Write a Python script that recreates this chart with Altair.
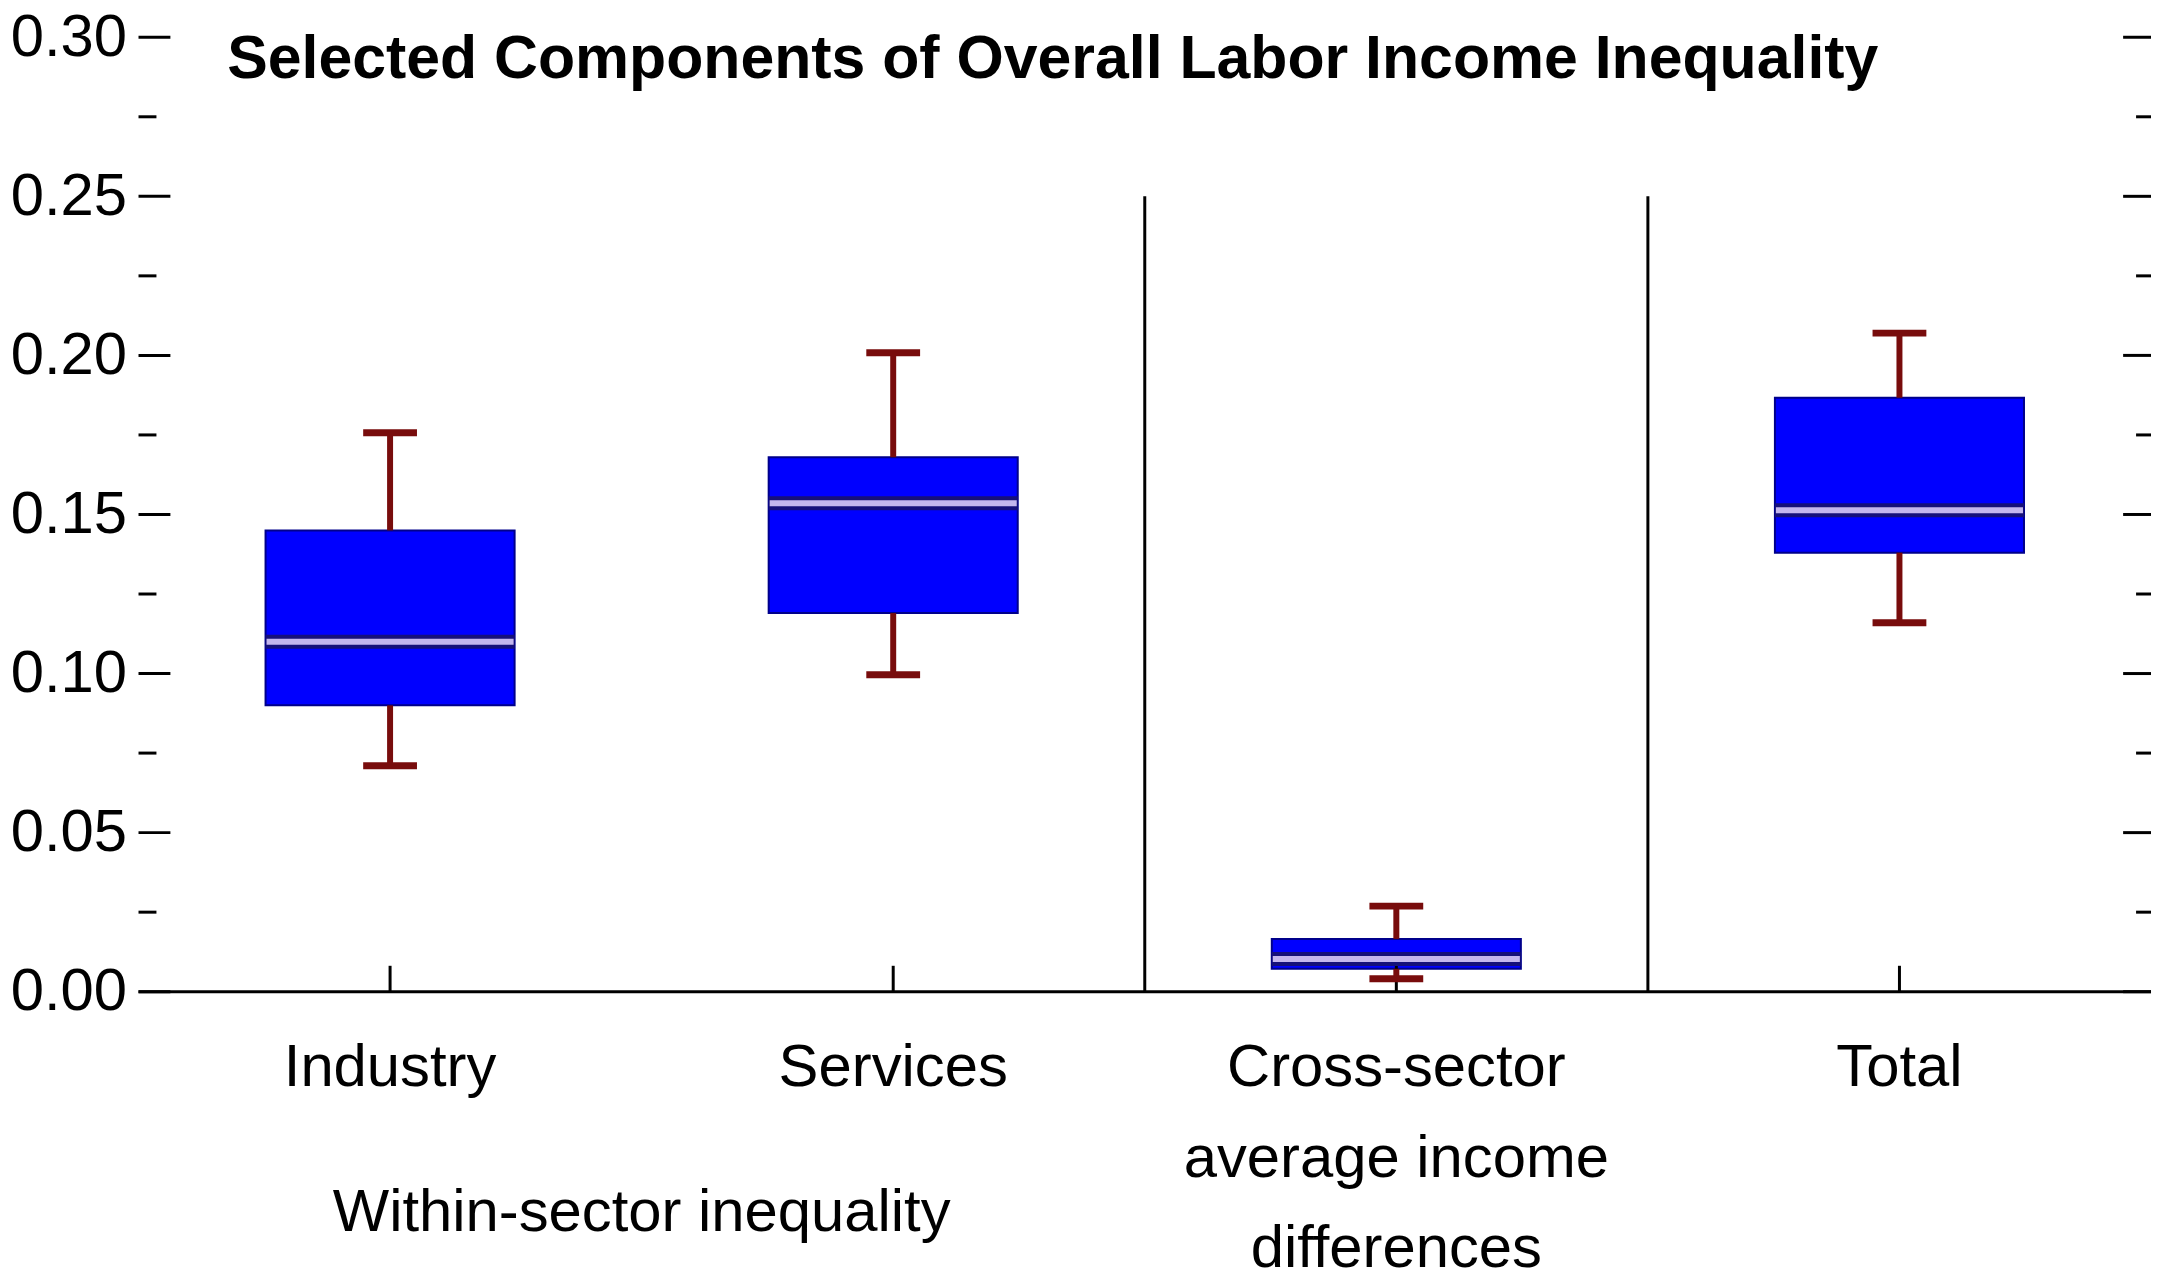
import altair as alt
import pandas as pd

# ---- data ----
categories = ["Industry", "Services", "Cross-sector|average income|differences", "Total"]
whisker_low = [0.071, 0.0996, 0.0041, 0.116]
box_low = [0.090, 0.119, 0.0072, 0.138]
median = [0.110, 0.1535, 0.0103, 0.1513]
box_high = [0.145, 0.168, 0.0166, 0.1867]
whisker_high = [0.1757, 0.2008, 0.0269, 0.207]

y_major = [0.0, 0.05, 0.10, 0.15, 0.20, 0.25, 0.30]
y_minor = [0.025, 0.075, 0.125, 0.175, 0.225, 0.275]
separators = ["Cross-sector|average income|differences", "Total"]
separator_low = 0.0
separator_high = 0.25
group_label = "Within-sector inequality"
group_anchor = "Services"
title_text = "Selected Components of Overall Labor Income Inequality"

# ---- styling ----
W, H = 2020, 958
FONT = "Liberation Sans Narrow, Arial Narrow, Liberation Sans, Arial, sans-serif"
FS = 60
BOX = "#0000ff"
BOX_EDGE = "#00008b"
WHISK = "#780c0c"

df = pd.DataFrame({
    "cat": categories,
    "wl": whisker_low,
    "q1": box_low,
    "med": median,
    "q3": box_high,
    "wh": whisker_high,
})

x_scale = alt.Scale(domain=categories, paddingInner=0, paddingOuter=0)
y_scale = alt.Scale(domain=[0, 0.30], nice=False, zero=True)

x_axis = alt.Axis(title=None, domain=False, ticks=False, tickSize=0, grid=False,
                  labelAngle=0, labelFont=FONT, labelFontSize=FS, labelColor="black",
                  labelPadding=47, labelLineHeight=91, labelLimit=2000,
                  labelBaseline="top", labelExpr="split(datum.label, '|')")
y_axis = alt.Axis(title=None, values=y_major, format=".2f", domain=False, ticks=False,
                  tickSize=0, grid=False, labelFont=FONT, labelFontSize=FS,
                  labelColor="black", labelPadding=12)

X = lambda **kw: alt.X("cat:N", scale=x_scale, sort=categories, **kw)

base = alt.Chart(df)

# boxes (carry the axes)
boxes = base.mark_bar(size=250, color=BOX, stroke=BOX_EDGE, strokeWidth=2).encode(
    x=X(axis=x_axis),
    y=alt.Y("q1:Q", scale=y_scale, axis=y_axis),
    y2="q3:Q",
)

stem_hi = base.mark_rule(color=WHISK, strokeWidth=6).encode(
    x=X(), y=alt.Y("q3:Q", scale=y_scale), y2="wh:Q")
stem_lo = base.mark_rule(color=WHISK, strokeWidth=6).encode(
    x=X(), y=alt.Y("wl:Q", scale=y_scale), y2="q1:Q")
cap_hi = base.mark_tick(color=WHISK, size=54, thickness=7, opacity=1).encode(
    x=X(), y=alt.Y("wh:Q", scale=y_scale))
cap_lo = base.mark_tick(color=WHISK, size=54, thickness=7, opacity=1).encode(
    x=X(), y=alt.Y("wl:Q", scale=y_scale))
med_dark = base.mark_tick(color="#16107a", size=250, thickness=14, opacity=1).encode(
    x=X(), y=alt.Y("med:Q", scale=y_scale))
med_light = base.mark_tick(color="#c4b6ee", size=248, thickness=6, opacity=1).encode(
    x=X(), y=alt.Y("med:Q", scale=y_scale))

# y ticks (inward, both sides)
maj = alt.Chart(pd.DataFrame({"v": y_major}))
mino = alt.Chart(pd.DataFrame({"v": y_minor}))
yt = lambda c, x0, x1: c.mark_rule(color="black", strokeWidth=3).encode(
    y=alt.Y("v:Q", scale=y_scale), x=alt.value(x0), x2=alt.value(x1))
ticks_y = [yt(maj, 0, 32), yt(maj, W - 28, W), yt(mino, 0, 18), yt(mino, W - 15, W)]

# baseline
baseline = alt.Chart(pd.DataFrame({"v": [0.0]})).mark_rule(color="black", strokeWidth=3).encode(
    y=alt.Y("v:Q", scale=y_scale), x=alt.value(0), x2=alt.value(W))

# x ticks (inward)
ticks_x = alt.Chart(pd.DataFrame({"cat": categories})).mark_rule(color="black", strokeWidth=3).encode(
    x=X(), y=alt.value(H - 26), y2=alt.value(H))

# separators
sep = alt.Chart(pd.DataFrame({"cat": separators, "lo": [separator_low] * len(separators),
                              "hi": [separator_high] * len(separators)})).mark_rule(
    color="black", strokeWidth=3).encode(
    x=X(bandPosition=0), y=alt.Y("lo:Q", scale=y_scale), y2="hi:Q")

# group label
grp = alt.Chart(pd.DataFrame({"cat": [group_anchor], "t": [group_label]})).mark_text(
    font=FONT, fontSize=FS, color="black", align="center", baseline="alphabetic").encode(
    x=X(bandPosition=0), y=alt.value(1198), text="t:N")

# title
ttl = alt.Chart(pd.DataFrame({"t": [title_text]})).mark_text(
    font=FONT, fontSize=61, fontWeight="bold", color="black", align="left",
    baseline="alphabetic").encode(x=alt.value(89), y=alt.value(41), text="t:N")

chart = alt.layer(
    boxes, *ticks_y, baseline, ticks_x, sep, stem_hi, stem_lo, cap_hi, cap_lo,
    med_dark, med_light, grp, ttl
).properties(
    width=W, height=H,
    autosize=alt.AutoSizeParams(type="none"),
    padding={"left": 131, "top": 27, "right": 4, "bottom": 282},
    background="white",
).configure_view(stroke=None)

chart.save("out.html", embed_options={"renderer": "svg", "actions": False})
